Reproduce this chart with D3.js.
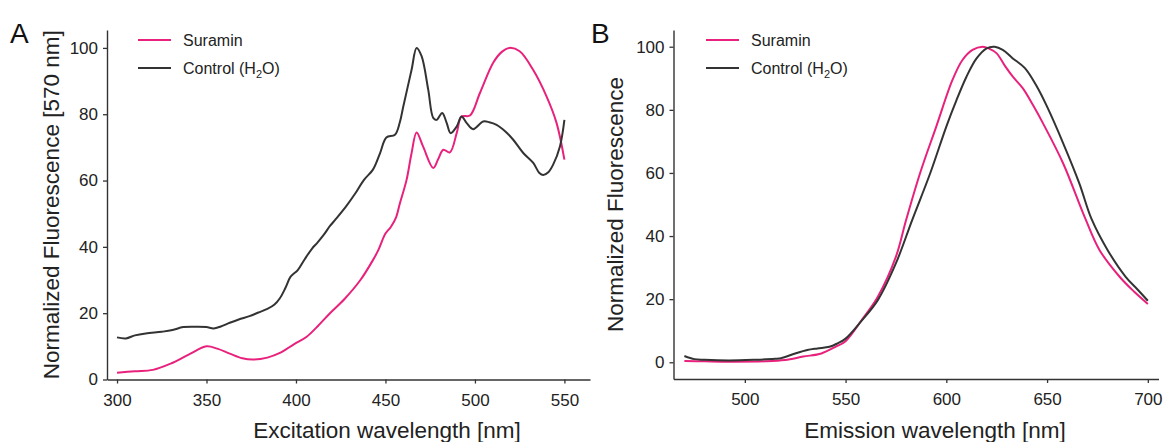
<!DOCTYPE html>
<html>
<head>
<meta charset="utf-8">
<script src="https://cdn.jsdelivr.net/npm/d3@7"></script>
<style>
  html, body { margin: 0; padding: 0; background: #fff; }
  svg { display: block; font-family: "Liberation Sans", Arial, Helvetica, sans-serif; }
</style>
</head>
<body>
<svg id="chart" width="1165" height="442"></svg>
<script>
// ---- Panel A: excitation spectra (emission read at 570 nm) ----
const exSuraminNm = [300, 310, 320, 330, 340, 350, 356, 363, 370, 376, 384, 391, 399, 406, 412, 419, 427, 436, 443, 446, 450, 453, 456, 458, 461.8, 464.5, 467.4, 471, 476.7, 479.5, 482.3, 486, 489.8, 492.5, 497.2, 502.8, 510.2, 515, 519.2, 525, 532.5, 540, 545.6, 550];
const exSuraminVal = [2.0, 2.5, 2.9, 4.8, 7.5, 10.0, 9.3, 7.8, 6.4, 6.0, 6.6, 8.0, 10.7, 12.9, 16.0, 20.0, 24.2, 30.0, 36.0, 39.0, 44.0, 46.0, 49.0, 53.0, 60.2, 68.0, 74.5, 70.3, 63.8, 66.5, 69.3, 68.5, 74.3, 79.3, 79.6, 86.4, 95.5, 98.8, 100, 99.0, 93.4, 85.4, 77.4, 66.3];

const exControlNm = [300, 305, 310, 316, 325, 331, 337, 345, 350, 354, 358, 363, 368, 374, 379, 384, 388, 391, 394, 397, 401, 404, 406, 409, 412, 416, 419, 422, 428, 433, 438, 443, 447, 450.5, 455.3, 458, 460, 464.6, 467.4, 470.2, 473.9, 476.7, 478.6, 481.7, 484.2, 486.4, 489.8, 492.5, 495.3, 499, 504.6, 508, 512.1, 517, 521.4, 527, 532.6, 536, 538.2, 541, 543.7, 547.5, 550];
const exControlVal = [12.7, 12.4, 13.3, 13.9, 14.4, 14.9, 15.8, 15.9, 15.8, 15.4, 16.0, 17.1, 18.1, 19.1, 20.2, 21.3, 22.6, 24.5, 27.5, 31.0, 33.0, 35.5, 37.2, 39.5, 41.3, 44.0, 46.3, 48.2, 52.2, 56.0, 60.2, 63.3, 68.3, 73.0, 73.8, 77.5, 82.4, 93.4, 100, 97.5, 87.4, 78.9, 78.3, 80.4, 77.4, 74.3, 76.3, 79.3, 77.4, 75.5, 77.8, 77.6, 76.8, 74.8, 72.3, 68.3, 65.3, 62.3, 61.7, 62.5, 64.8, 70.3, 78.3];

const exTicksX = [300, 350, 400, 450, 500, 550];
const exTicksY = [0, 20, 40, 60, 80, 100];

// ---- Panel B: emission spectra ----
const emSuraminNm = [470, 480, 492, 510, 520, 529, 538, 545, 550, 558, 566, 575, 580, 587, 595, 603, 608, 613, 618, 621, 625, 629, 633, 638, 643, 648, 658, 669, 676, 686, 693, 700];
const emSuraminVal = [0.4, 0.3, 0.2, 0.3, 0.7, 1.8, 2.8, 4.9, 6.7, 13.4, 20.8, 33.5, 45.0, 60.0, 74.7, 89.4, 95.8, 99.0, 100, 99.5, 97.9, 94.0, 90.5, 86.8, 81.5, 75.7, 63.0, 45.5, 35.6, 27.1, 22.5, 18.5];

const emControlNm = [470, 475, 480, 492, 505, 515, 518, 525, 531, 536, 542, 546, 550, 558, 566, 575, 583, 592, 600, 605, 610, 615, 620, 624, 628, 633, 639, 645, 650, 658, 666, 672, 680, 689, 695, 700];
const emControlVal = [2.0, 1.0, 0.8, 0.6, 0.8, 1.1, 1.3, 2.8, 3.9, 4.4, 4.9, 6.0, 7.5, 13.2, 19.7, 31.4, 45.0, 59.9, 74.7, 83.0, 90.5, 96.3, 99.5, 100, 99.0, 96.3, 93.2, 87.3, 81.0, 69.4, 56.7, 45.5, 35.6, 27.1, 23.0, 19.5];

const emTicksX = [500, 550, 600, 650, 700];
const emTicksY = [0, 20, 40, 60, 80, 100];

const seriesNames = ["Suramin", "Control"];
const seriesColors = ["#e8217c", "#333333"];

const svg = d3.select("#chart");
const axisColor = "#333";

function zip(xs, ys) { return xs.map((x, i) => ({ x, y: ys[i] })); }

function drawPanel(cfg) {
  const g = svg.append("g");
  const x = d3.scaleLinear().domain(cfg.xDomain).range(cfg.xRange);
  const y = d3.scaleLinear().domain(cfg.yDomain).range(cfg.yRange);

  const xAxis = g.append("g")
    .attr("transform", `translate(0,${cfg.yRange[0]})`)
    .call(d3.axisBottom(x).tickValues(cfg.xTicks).tickSize(4).tickSizeOuter(0).tickPadding(10));
  const yAxis = g.append("g")
    .attr("transform", `translate(${cfg.xRange[0]},0)`)
    .call(d3.axisLeft(y).tickValues(cfg.yTicks).tickSize(4).tickSizeOuter(0).tickPadding(5));

  [xAxis, yAxis].forEach(a => {
    a.select(".domain").attr("stroke", axisColor).attr("stroke-width", 1.4);
    a.selectAll(".tick line").attr("stroke", axisColor).attr("stroke-width", 1.3);
    a.selectAll(".tick text").attr("fill", "#222").style("font-size", "17px")
      .style("font-family", '"Liberation Sans", Arial, sans-serif');
  });

  const line = d3.line()
    .x(d => x(d.x)).y(d => y(d.y))
    .curve(d3.curveCatmullRom.alpha(0.5));

  cfg.series.forEach((s, i) => {
    g.append("path")
      .datum(s)
      .attr("fill", "none")
      .attr("stroke", seriesColors[i])
      .attr("stroke-width", 2)
      .attr("stroke-linejoin", "round")
      .attr("d", line);
  });

  // axis titles
  g.append("text")
    .attr("x", cfg.xTitleX).attr("y", 438)
    .attr("text-anchor", "middle")
    .attr("fill", "#222").style("font-size", "22.5px")
    .text(cfg.xTitle);
  g.append("text")
    .attr("transform", `translate(${cfg.yTitleX},${(cfg.yRange[0] + cfg.yRange[1]) / 2}) rotate(-90)`)
    .attr("text-anchor", "middle")
    .attr("fill", "#222").style("font-size", "22.5px")
    .text(cfg.yTitle);

  // panel letter
  g.append("text")
    .attr("x", cfg.letterX).attr("y", 43)
    .attr("fill", "#111").style("font-size", "28px")
    .text(cfg.letter);

  // legend
  const leg = g.append("g");
  seriesNames.forEach((name, i) => {
    const ly = 40 + i * 28;
    leg.append("line")
      .attr("x1", cfg.legendX).attr("x2", cfg.legendX + 33)
      .attr("y1", ly).attr("y2", ly)
      .attr("stroke", seriesColors[i]).attr("stroke-width", 2);
    const t = leg.append("text")
      .attr("x", cfg.legendX + 45).attr("y", ly + 5.5)
      .attr("fill", "#222").style("font-size", "16px");
    if (name === "Control") {
      t.append("tspan").text("Control (H");
      t.append("tspan").attr("dy", 4).style("font-size", "11px").text("2");
      t.append("tspan").attr("dy", -4).text("O)");
    } else {
      t.text(name);
    }
  });
}

drawPanel({
  letter: "A", letterX: 10,
  xDomain: [294.4, 564.3], xRange: [107, 590],
  yDomain: [0, 105.4], yRange: [379.5, 30],
  xTicks: exTicksX, yTicks: exTicksY,
  series: [zip(exSuraminNm, exSuraminVal), zip(exControlNm, exControlVal)],
  xTitle: "Excitation wavelength [nm]", xTitleX: 387,
  yTitle: "Normalized Fluorescence [570 nm]", yTitleX: 59,
  legendX: 138
});

drawPanel({
  letter: "B", letterX: 591,
  xDomain: [464.6, 705.3], xRange: [673.5, 1158.5],
  yDomain: [-5.3, 105.3], yRange: [379, 30],
  xTicks: emTicksX, yTicks: emTicksY,
  series: [zip(emSuraminNm, emSuraminVal), zip(emControlNm, emControlVal)],
  xTitle: "Emission wavelength [nm]", xTitleX: 935,
  yTitle: "Normalized Fluorescence", yTitleX: 623,
  legendX: 706
});
</script>
</body>
</html>
